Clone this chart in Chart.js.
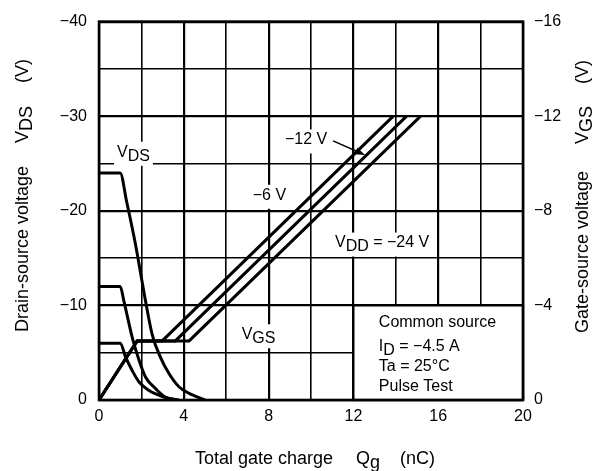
<!DOCTYPE html>
<html>
<head>
<meta charset="utf-8">
<script src="https://cdn.jsdelivr.net/npm/chart.js@4.4.1/dist/chart.umd.min.js"></script>
<style>
    html, body { margin: 0; padding: 0; background: #fff; }
    #wrap { width: 599px; height: 471px; }
</style>
</head>
<body>
<div id="wrap"><canvas id="qgChart"></canvas></div>
<script>
// Curvas VDS (eje izquierdo, V)
const vds6X = [0, 1.0, 1.26, 1.57, 1.89, 2.36, 3.0, 3.6];
const vds6Y = [-6, -6, -4.5, -3.1, -1.9, -1.0, -0.35, 0];
const vds12X = [0, 1.0, 1.18, 1.57, 1.89, 2.2, 2.67, 3.1, 3.77];
const vds12Y = [-12, -12, -10.4, -6.6, -4.2, -2.4, -1.2, -0.35, 0];
const vds24X = [0, 1.0, 1.3, 1.7, 2.2, 2.5, 2.9, 3.3, 3.77, 4.25, 5.0];
const vds24Y = [-24, -24, -21, -16.7, -10.4, -7.0, -4.5, -2.8, -1.4, -0.7, 0];

// Curvas VGS (eje derecho, V)
const vgs6X = [0, 1.8, 2.98, 13.88];
const vgs12X = [0, 1.8, 3.6, 14.51];
const vgs24X = [0, 1.8, 4.25, 15.17];
const vgsY = [0, -2.5, -2.5, -12];

// Ejes
const xTicks = [0, 4, 8, 12, 16, 20];
const vdsTicks = [0, -10, -20, -30, -40];
const vgsTicks = [0, -4, -8, -12, -16];

const FONT = '"Liberation Sans", Arial, sans-serif';

function toPoints(xs, ys) {
    return xs.map((x, i) => ({ x: x, y: ys[i] }));
}

function fmtNeg(v) {
    return v === 0 ? '0' : '\u2212' + Math.abs(v);
}

function lineSet(xs, ys, axis, smooth) {
    return {
        data: toPoints(xs, ys),
        yAxisID: axis,
        borderColor: '#000',
        borderWidth: 3,
        pointRadius: 0,
        fill: false,
        tension: 0,
        cubicInterpolationMode: smooth ? 'monotone' : 'default'
    };
}

// Texto con subíndices: partes [texto, esSub]
function drawRich(ctx, parts, px, py, size, bg) {
    ctx.font = size + 'px ' + FONT;
    ctx.textBaseline = 'middle';
    ctx.textAlign = 'left';
    let w = 0;
    parts.forEach(p => { w += ctx.measureText(p[0]).width; });
    if (bg) {
        ctx.fillStyle = '#fff';
        ctx.fillRect(px - 3, py - size * 0.65, w + 6, size * 1.5);
    }
    ctx.fillStyle = '#000';
    let cx = px;
    parts.forEach(p => {
        ctx.fillText(p[0], cx, py + (p[1] ? 4 : 0));
        cx += ctx.measureText(p[0]).width;
    });
}

const overlayPlugin = {
    id: 'overlay',
    beforeDatasetsDraw(chart) {
        const ctx = chart.ctx;
        const x = chart.scales.x;
        const y = chart.scales.y;
        ctx.save();
        // Recuadro de condiciones
        const bx = x.getPixelForValue(12), by = y.getPixelForValue(-10);
        const bw = x.getPixelForValue(20) - bx, bh = y.getPixelForValue(0) - by;
        ctx.fillStyle = '#fff';
        ctx.fillRect(bx, by, bw, bh);
        ctx.strokeStyle = '#000';
        ctx.lineWidth = 2.2;
        ctx.strokeRect(bx, by, bw, bh);
        const tx = x.getPixelForValue(13.2);
        drawRich(ctx, [['Common source']], tx, y.getPixelForValue(-8.2), 16, false);
        drawRich(ctx, [['I'], ['D', true], [' = \u22124.5 A']], tx, y.getPixelForValue(-5.6), 16, false);
        drawRich(ctx, [['Ta = 25\u00B0C']], tx, y.getPixelForValue(-3.5), 16, false);
        drawRich(ctx, [['Pulse Test']], tx, y.getPixelForValue(-1.4), 16, false);

        // Etiquetas de curvas
        drawRich(ctx, [['V'], ['DS', true]], x.getPixelForValue(0.85), y.getPixelForValue(-26.2), 16, true);
        drawRich(ctx, [['\u221212 V']], x.getPixelForValue(8.77), y.getPixelForValue(-27.5), 16, true);
        drawRich(ctx, [['\u22126 V']], x.getPixelForValue(7.25), y.getPixelForValue(-21.65), 16, true);
        drawRich(ctx, [['V'], ['DD', true], [' = \u221224 V']], x.getPixelForValue(11.13), y.getPixelForValue(-16.6), 16, true);
        drawRich(ctx, [['V'], ['GS', true]], x.getPixelForValue(6.73), y.getPixelForValue(-6.9), 16, true);
        ctx.restore();
    },
    afterDraw(chart) {
        const ctx = chart.ctx;
        const a = chart.chartArea;
        const x = chart.scales.x;
        const y = chart.scales.y;
        ctx.save();
        // Marco
        ctx.strokeStyle = '#000';
        ctx.lineWidth = 2.6;
        ctx.strokeRect(a.left, a.top, a.right - a.left, a.bottom - a.top);

        // Flecha de -12 V
        const x1 = x.getPixelForValue(11.04), y1 = y.getPixelForValue(-27.4);
        const x2 = x.getPixelForValue(12.55), y2 = y.getPixelForValue(-25.9);
        const ang = Math.atan2(y2 - y1, x2 - x1);
        ctx.lineWidth = 1.4;
        ctx.beginPath();
        ctx.moveTo(x1, y1);
        ctx.lineTo(x2 - 8 * Math.cos(ang), y2 - 8 * Math.sin(ang));
        ctx.stroke();
        ctx.fillStyle = '#000';
        ctx.beginPath();
        ctx.moveTo(x2, y2);
        ctx.lineTo(x2 - 10 * Math.cos(ang) + 3.5 * Math.sin(ang), y2 - 10 * Math.sin(ang) - 3.5 * Math.cos(ang));
        ctx.lineTo(x2 - 10 * Math.cos(ang) - 3.5 * Math.sin(ang), y2 - 10 * Math.sin(ang) + 3.5 * Math.cos(ang));
        ctx.closePath();
        ctx.fill();

        // Títulos de ejes
        ctx.font = '18px ' + FONT;
        ctx.textBaseline = 'alphabetic';
        ctx.textAlign = 'left';
        const sub = (t, px, py) => ctx.fillText(t, px, py + 4);

        ctx.fillText('Total gate charge', 195, 464);
        ctx.fillText('Q', 356, 464);
        sub('g', 356 + ctx.measureText('Q').width, 464);
        ctx.fillText('(nC)', 400, 464);

        [[28, 332, 'Drain-source voltage', 'DS'], [588, 333, 'Gate-source voltage', 'GS']].forEach(t => {
            ctx.save();
            ctx.translate(t[0], t[1]);
            ctx.rotate(-Math.PI / 2);
            ctx.fillText(t[2], 0, 0);
            ctx.fillText('V', 189, 0);
            sub(t[3], 189 + ctx.measureText('V').width, 0);
            ctx.fillText('(V)', 249, 0);
            ctx.restore();
        });
        ctx.restore();
    }
};

const ctx = document.getElementById('qgChart').getContext('2d');
const qgChart = new Chart(ctx, {
    type: 'line',
    data: {
        datasets: [
            lineSet(vds6X, vds6Y, 'y', true),
            lineSet(vds12X, vds12Y, 'y', true),
            lineSet(vds24X, vds24Y, 'y', true),
            lineSet(vgs6X, vgsY, 'y2', false),
            lineSet(vgs12X, vgsY, 'y2', false),
            lineSet(vgs24X, vgsY, 'y2', false)
        ]
    },
    options: {
        responsive: true,
        maintainAspectRatio: false,
        animation: false,
        layout: { padding: { top: 17, left: 0, right: 0, bottom: 0 } },
        plugins: {
            legend: { display: false },
            tooltip: { enabled: false }
        },
        scales: {
            x: {
                type: 'linear',
                min: 0,
                max: 20,
                afterFit: s => { s.height = 71; },
                border: { display: false },
                grid: {
                    color: '#000',
                    drawTicks: false,
                    lineWidth: c => (c.tick && c.tick.value % 4 === 0 ? 2.2 : 1.6)
                },
                ticks: {
                    stepSize: 2,
                    autoSkip: false,
                    maxRotation: 0,
                    padding: 7,
                    color: '#000',
                    font: { size: 16, family: FONT },
                    callback: v => (xTicks.includes(v) ? String(v) : '')
                }
            },
            y: {
                type: 'linear',
                position: 'left',
                min: -40,
                max: 0,
                reverse: true,
                afterFit: s => { s.width = 99; },
                border: { display: false },
                grid: {
                    color: '#000',
                    drawTicks: false,
                    lineWidth: c => (c.tick && c.tick.value % 10 === 0 ? 2.2 : 1.6)
                },
                ticks: {
                    stepSize: 5,
                    autoSkip: false,
                    padding: 12,
                    color: '#000',
                    font: { size: 16, family: FONT },
                    callback: v => (vdsTicks.includes(v) ? fmtNeg(v) : '')
                }
            },
            y2: {
                type: 'linear',
                position: 'right',
                min: -16,
                max: 0,
                reverse: true,
                afterFit: s => { s.width = 76; },
                border: { display: false },
                grid: { display: false, drawTicks: false },
                ticks: {
                    stepSize: 4,
                    autoSkip: false,
                    padding: 11,
                    color: '#000',
                    font: { size: 16, family: FONT },
                    callback: v => (vgsTicks.includes(v) ? fmtNeg(v) : '')
                }
            }
        }
    },
    plugins: [overlayPlugin]
});
</script>
</body>
</html>
